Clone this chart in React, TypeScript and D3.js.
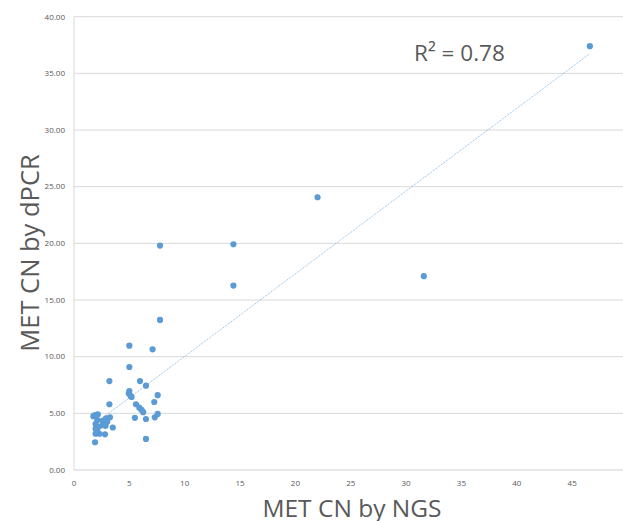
import React from "react";
import * as d3 from "d3";

const W = 623;
const H = 521;

// NGS copy number (x) vs dPCR copy number (y)
const ngsValues: number[] = [
  1.9, 2.15, 1.75, 2.1, 2.6, 2.9, 3.25, 3.0, 1.95, 2.55, 2.85, 3.5, 1.95, 2.2, 2.1, 1.95, 2.3, 2.8, 1.9, 3.2, 3.2,
  5.0, 7.1, 5.0, 5.96, 6.5, 5.0, 4.95, 5.1, 5.2, 7.56, 5.6, 7.25, 5.9, 6.1, 6.25, 7.56, 7.3, 5.5, 6.5, 6.5,
  7.77, 7.77, 14.4, 14.4, 22.0, 31.6, 46.6,
];
const dpcrValues: number[] = [
  4.85, 4.9, 4.75, 4.4, 4.35, 4.55, 4.65, 4.25, 4.05, 3.95, 3.9, 3.75, 3.65, 3.8, 3.4, 3.2, 3.2, 3.15, 2.45, 5.8, 7.85,
  10.97, 10.65, 9.09, 7.85, 7.44, 6.97, 6.75, 6.55, 6.45, 6.6, 5.8, 6.0, 5.5, 5.3, 5.1, 4.95, 4.65, 4.6, 4.5, 2.74,
  19.8, 13.24, 19.92, 16.27, 24.07, 17.1, 37.4,
];

const xTicks: number[] = [0, 5, 10, 15, 20, 25, 30, 35, 40, 45];
const yTicks: number[] = [0, 5, 10, 15, 20, 25, 30, 35, 40];

const trendSlope = 0.73;
const trendIntercept = 2.72;
const rSquaredLabel = "R² = 0.78";
const xTitle = "MET CN by NGS";
const yTitle = "MET CN by dPCR";

const BLUE = "#5b9bd5";
const TEXT = "#595959";
const FONT = "'Open Sans', 'Noto Sans', sans-serif";

export default function App() {
  const x = d3.scaleLinear().domain([0, 50]).range([74, 627.5]);
  const y = d3.scaleLinear().domain([0, 40]).range([470, 16.7]);

  const points = ngsValues.map((v, i) => ({ x: v, y: dpcrValues[i] }));
  const xMin = d3.min(ngsValues) as number;
  const xMax = d3.max(ngsValues) as number;
  const trend = d3
    .line<number>()
    .x((d) => x(d))
    .y((d) => y(trendIntercept + trendSlope * d));

  return (
    <svg
      width={W}
      height={H}
      style={{ position: "absolute", left: 0, top: 0, background: "#fff" }}
    >
      {yTicks.map((t) => (
        <g key={"y" + t}>
          {t > 0 && (
            <line x1={x(0)} x2={W} y1={y(t)} y2={y(t)} stroke="#d9d9d9" strokeWidth={1} />
          )}
          <text
            x={65}
            y={y(t)}
            dy="0.35em"
            textAnchor="end"
            fontFamily={FONT}
            fontSize={8}
            fill={TEXT}
          >
            {t.toFixed(2)}
          </text>
        </g>
      ))}
      <line x1={x(0)} x2={x(0)} y1={y(40)} y2={y(0)} stroke="#d9d9d9" strokeWidth={1} />
      <line x1={x(0)} x2={W} y1={y(0)} y2={y(0)} stroke="#d0d0d0" strokeWidth={1} />
      {xTicks.map((t) => (
        <text
          key={"x" + t}
          x={x(t)}
          y={486}
          textAnchor="middle"
          fontFamily={FONT}
          fontSize={8}
          fill={TEXT}
        >
          {t}
        </text>
      ))}
      <path
        d={trend([xMin, xMax]) || ""}
        fill="none"
        stroke={BLUE}
        strokeWidth={0.8}
        strokeDasharray="1,1"
        opacity={0.9}
      />
      {points.map((p, i) => (
        <circle key={i} cx={x(p.x)} cy={y(p.y)} r={3.1} fill={BLUE} />
      ))}
      <text x={414} y={61} fontFamily={FONT} fontSize={22.5} fill={TEXT}>
        {rSquaredLabel}
      </text>
      <text
        x={352}
        y={517}
        textAnchor="middle"
        fontFamily={FONT}
        fontSize={24.5}
        fill={TEXT}
      >
        {xTitle}
      </text>
      <text
        transform={`translate(39,${253}) rotate(-90)`}
        textAnchor="middle"
        fontFamily={FONT}
        fontSize={25.5}
        fill={TEXT}
      >
        {yTitle}
      </text>
    </svg>
  );
}
